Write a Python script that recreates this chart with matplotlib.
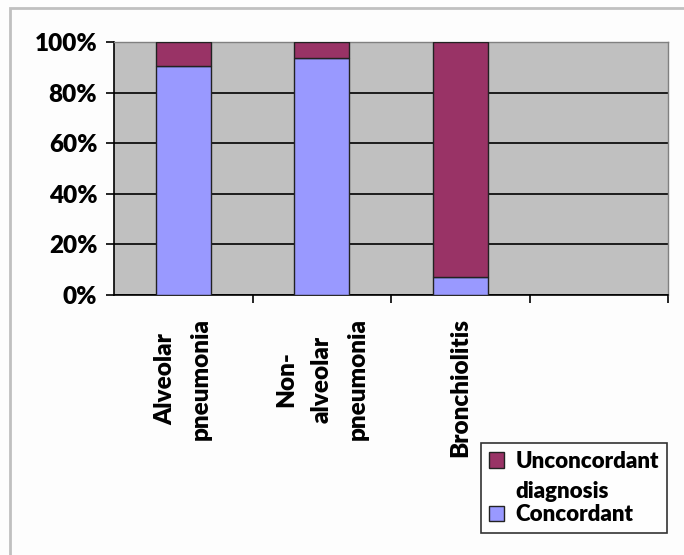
import matplotlib
matplotlib.use("Agg")
import matplotlib.pyplot as plt
from matplotlib.patches import Rectangle, Patch
from matplotlib.legend_handler import HandlerPatch
from matplotlib.ticker import FixedLocator, PercentFormatter

categories = ["Alveolar\npneumonia", "Non-\nalveolar\npneumonia", "Bronchiolitis"]
concordant = [90.6, 93.6, 7.3]
unconcordant = [9.4, 6.4, 92.7]
yticks = [0, 20, 40, 60, 80, 100]
series_names = ["Unconcordant\ndiagnosis", "Concordant"]

W, H = 684, 555
fig = plt.figure(figsize=(W / 100, H / 100), dpi=100, facecolor="#fdfdfd")
font = "Lato"
weight = "heavy"
fs = 17.5

# outer frame
fig.patches.append(Rectangle((10 / W, -0.1), 1.2, (H - 8) / H + 0.1,
                             transform=fig.transFigure, fill=False,
                             edgecolor="#c0c0c0", linewidth=2.0))

ax = fig.add_axes([114 / W, (H - 295) / H, (668 - 114) / W, (295 - 42) / H])
ax.set_facecolor("#c0c0c0")

x = list(range(len(categories)))
ax.bar(x, concordant, width=0.4, color="#9999ff", edgecolor="#222222", linewidth=1.0, zorder=3)
ax.bar(x, unconcordant, width=0.4, bottom=concordant, color="#993366",
       edgecolor="#222222", linewidth=1.0, zorder=3)

ax.set_xlim(-0.5, 3.5)
ax.set_ylim(0, 100)
ax.set_yticks(yticks)
ax.yaxis.set_major_formatter(PercentFormatter(decimals=0))
ax.grid(axis="y", color="black", linewidth=1.2, zorder=1)
ax.set_axisbelow(True)

for s in ["top", "right"]:
    ax.spines[s].set_color("#808080")
    ax.spines[s].set_linewidth(1.0)
for s in ["left", "bottom"]:
    ax.spines[s].set_color("black")
    ax.spines[s].set_linewidth(1.2)

ax.tick_params(axis="y", direction="out", length=6, width=1.2, pad=6)
for lbl in ax.get_yticklabels():
    lbl.set_fontfamily(font)
    lbl.set_fontweight(weight)
    lbl.set_fontsize(fs)

ax.xaxis.set_major_locator(FixedLocator([0.5, 1.5, 2.5, 3.5]))
ax.xaxis.set_ticklabels([])
ax.tick_params(axis="x", direction="out", length=6, width=1.2)

for xi, lab in zip(x, categories):
    ax.annotate(lab, xy=(xi, 0), xycoords=("data", "axes fraction"),
                xytext=(0, -23), textcoords="offset pixels",
                rotation=90, ha="center", va="top", multialignment="center",
                fontfamily=font, fontweight=weight, fontsize=fs, linespacing=1.75)


def top_patch(legend, orig_handle, xdescent, ydescent, width, height, fontsize):
    return Rectangle((-xdescent, -ydescent + 0.78 * fontsize), width, height)


handles = [Patch(facecolor="#993366", edgecolor="#222222"),
           Patch(facecolor="#9999ff", edgecolor="#222222")]
leg = fig.legend(handles, series_names, loc="upper left",
                 bbox_to_anchor=(481 / W, (H - 539) / H, (667 - 481) / W, 96 / H),
                 mode="expand", frameon=True, fancybox=False,
                 prop={"family": font, "weight": weight, "size": 16},
                 handlelength=0.7, handleheight=0.7, handletextpad=0.5,
                 borderpad=0.35, labelspacing=0.1, borderaxespad=0,
                 handler_map={handles[0]: HandlerPatch(patch_func=top_patch)})
leg.get_frame().set_edgecolor("black")
leg.get_frame().set_linewidth(1.2)
for t in leg.get_texts():
    t.set_linespacing(1.55)

fig.savefig("out.png", dpi=100, facecolor=fig.get_facecolor())
